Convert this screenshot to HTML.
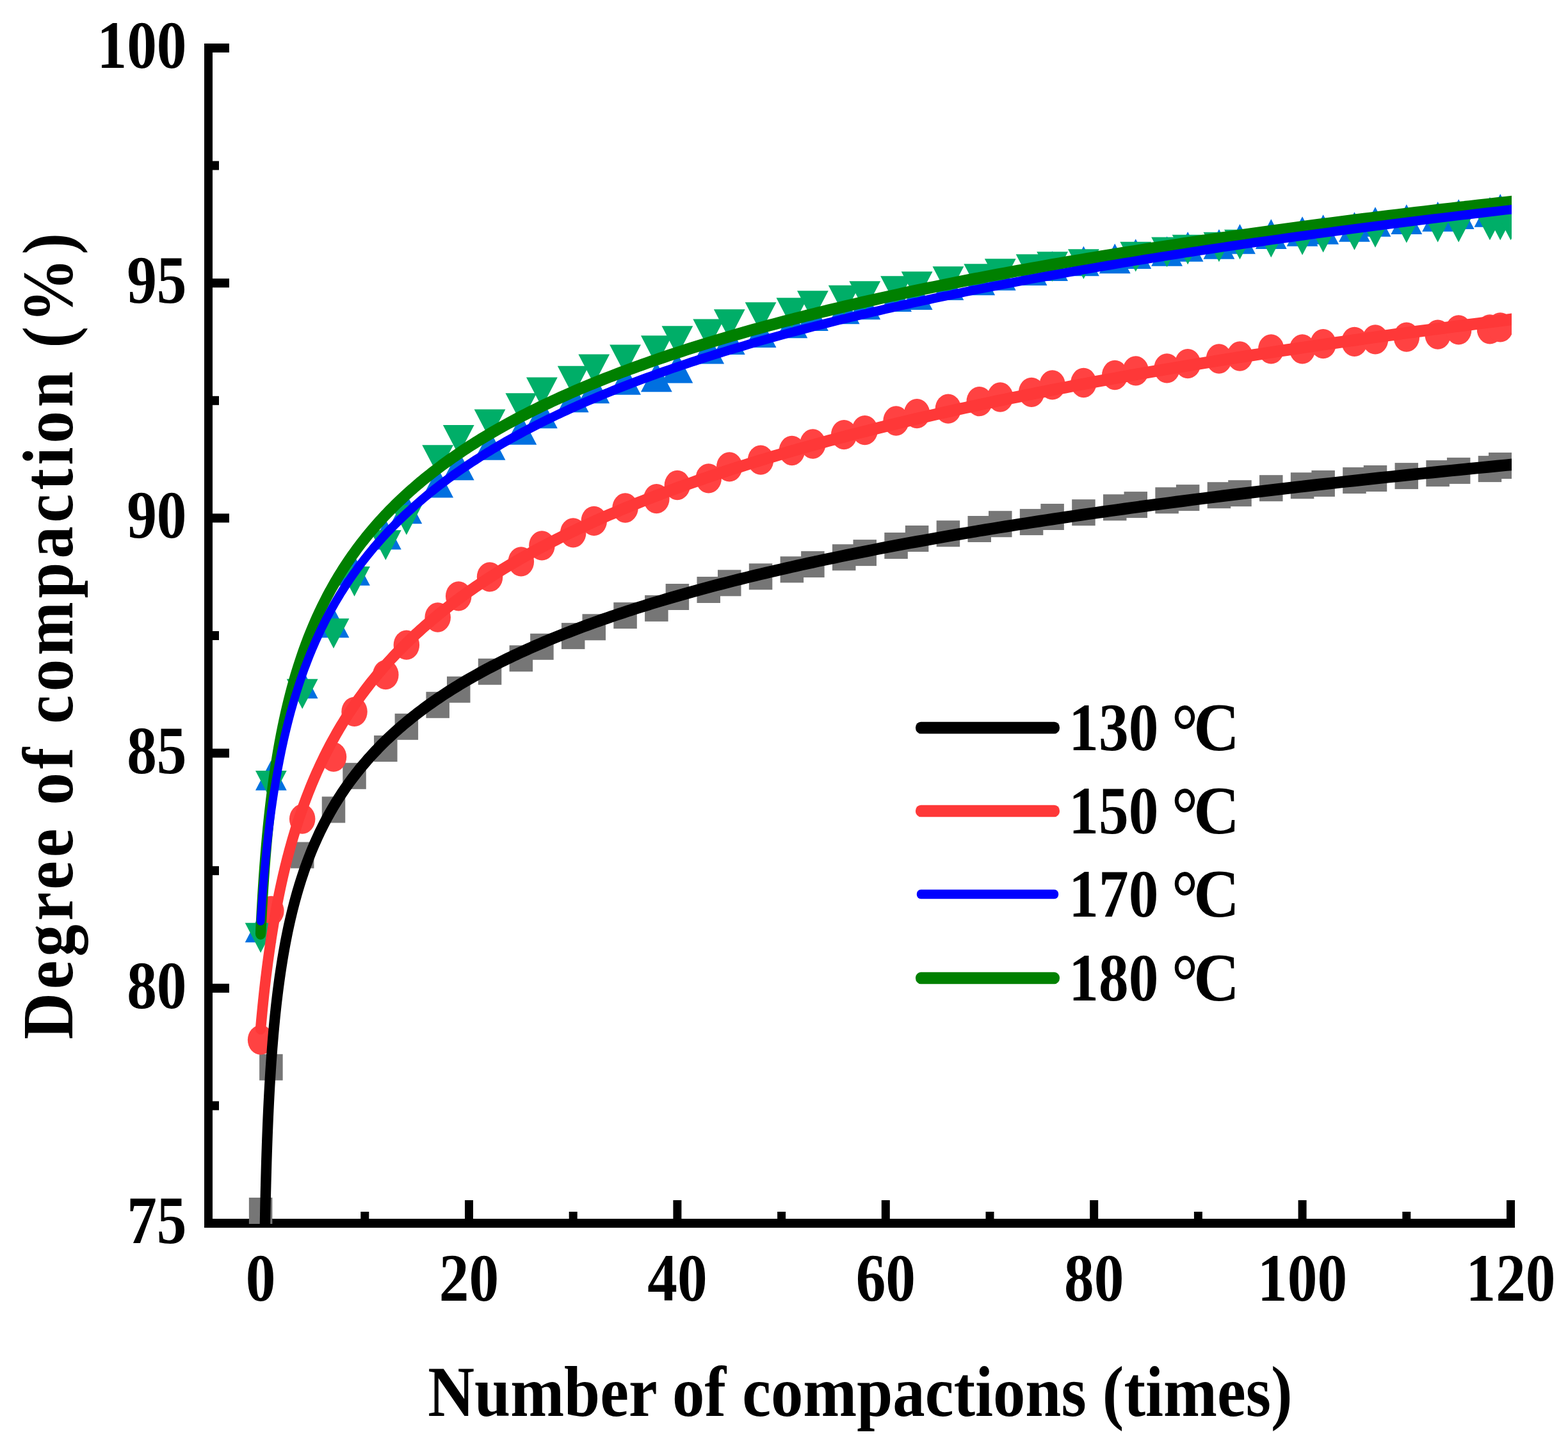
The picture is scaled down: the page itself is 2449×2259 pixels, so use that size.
<!DOCTYPE html>
<html><head><meta charset="utf-8"><title>Degree of compaction</title>
<style>html,body{margin:0;padding:0;background:#fff;} svg{display:block;}
text{font-family:"Liberation Serif","Times New Roman",serif;font-weight:bold;fill:#000;}</style></head>
<body>
<svg width="2449" height="2259" viewBox="0 0 2449 2259">
<rect x="0" y="0" width="2449" height="2259" fill="#fff"/>
<defs><clipPath id="fr"><rect x="325.5" y="60" width="2035.5" height="1852"/></clipPath></defs>
<g fill="#000"><rect x="319" y="68" width="13" height="1850"/><rect x="319" y="1904" width="2047" height="14"/><rect x="332" y="1904" width="26" height="14"/><rect x="332" y="1536.8" width="26" height="14"/><rect x="332" y="1169.6" width="26" height="14"/><rect x="332" y="802.4" width="26" height="14"/><rect x="332" y="435.2" width="26" height="14"/><rect x="332" y="68" width="26" height="14"/><rect x="332" y="1720.4" width="10" height="14"/><rect x="332" y="1353.2" width="10" height="14"/><rect x="332" y="986" width="10" height="14"/><rect x="332" y="618.8" width="10" height="14"/><rect x="332" y="251.6" width="10" height="14"/><rect x="400.6" y="1875" width="13" height="29"/><rect x="726" y="1875" width="13" height="29"/><rect x="1051.4" y="1875" width="13" height="29"/><rect x="1376.8" y="1875" width="13" height="29"/><rect x="1702.2" y="1875" width="13" height="29"/><rect x="2027.6" y="1875" width="13" height="29"/><rect x="2353" y="1875" width="13" height="29"/><rect x="563.3" y="1893" width="13" height="11"/><rect x="888.7" y="1893" width="13" height="11"/><rect x="1214.1" y="1893" width="13" height="11"/><rect x="1539.5" y="1893" width="13" height="11"/><rect x="1864.9" y="1893" width="13" height="11"/><rect x="2190.3" y="1893" width="13" height="11"/></g>
<g clip-path="url(#fr)">
<g fill="#767676"><rect x="388.85" y="1871" width="36.5" height="41.0"/><rect x="405.12" y="1646.8" width="36.5" height="41.0"/><rect x="453.93" y="1315.5" width="36.5" height="41.0"/><rect x="502.74" y="1244.5" width="36.5" height="41.0"/><rect x="535.28" y="1191.8" width="36.5" height="41.0"/><rect x="584.09" y="1149" width="36.5" height="41.0"/><rect x="616.63" y="1114.8" width="36.5" height="41.0"/><rect x="665.44" y="1080.8" width="36.5" height="41.0"/><rect x="697.98" y="1056.8" width="36.5" height="41.0"/><rect x="746.79" y="1028.8" width="36.5" height="41.0"/><rect x="795.6" y="1008.2" width="36.5" height="41.0"/><rect x="828.14" y="989.8" width="36.5" height="41.0"/><rect x="876.95" y="973.1" width="36.5" height="41.0"/><rect x="909.49" y="959.3" width="36.5" height="41.0"/><rect x="958.3" y="941.1" width="36.5" height="41.0"/><rect x="1007.11" y="929.9" width="36.5" height="41.0"/><rect x="1039.65" y="912" width="36.5" height="41.0"/><rect x="1088.46" y="901" width="36.5" height="41.0"/><rect x="1121" y="890.3" width="36.5" height="41.0"/><rect x="1169.81" y="880.3" width="36.5" height="41.0"/><rect x="1218.62" y="869.3" width="36.5" height="41.0"/><rect x="1251.16" y="861.1" width="36.5" height="41.0"/><rect x="1299.97" y="850.3" width="36.5" height="41.0"/><rect x="1332.51" y="843.1" width="36.5" height="41.0"/><rect x="1381.32" y="832" width="36.5" height="41.0"/><rect x="1413.86" y="821" width="36.5" height="41.0"/><rect x="1462.67" y="813.2" width="36.5" height="41.0"/><rect x="1511.48" y="806" width="36.5" height="41.0"/><rect x="1544.02" y="798.2" width="36.5" height="41.0"/><rect x="1592.83" y="795.1" width="36.5" height="41.0"/><rect x="1625.37" y="787" width="36.5" height="41.0"/><rect x="1674.18" y="780.2" width="36.5" height="41.0"/><rect x="1722.99" y="772.3" width="36.5" height="41.0"/><rect x="1755.53" y="768.1" width="36.5" height="41.0"/><rect x="1804.34" y="761.3" width="36.5" height="41.0"/><rect x="1836.88" y="757.1" width="36.5" height="41.0"/><rect x="1885.69" y="753.2" width="36.5" height="41.0"/><rect x="1918.23" y="750.2" width="36.5" height="41.0"/><rect x="1967.04" y="742.2" width="36.5" height="41.0"/><rect x="2015.85" y="738.2" width="36.5" height="41.0"/><rect x="2048.39" y="734.9" width="36.5" height="41.0"/><rect x="2097.2" y="730.1" width="36.5" height="41.0"/><rect x="2129.74" y="727" width="36.5" height="41.0"/><rect x="2178.55" y="723.1" width="36.5" height="41.0"/><rect x="2227.36" y="719.1" width="36.5" height="41.0"/><rect x="2259.9" y="714.9" width="36.5" height="41.0"/><rect x="2308.71" y="712.1" width="36.5" height="41.0"/><rect x="2324.98" y="707" width="36.5" height="41.0"/></g>
<g fill="#FF4242"><ellipse cx="407.1" cy="1624.6" rx="20.25" ry="23.15"/><ellipse cx="423.37" cy="1423" rx="20.25" ry="23.15"/><ellipse cx="472.18" cy="1279.5" rx="20.25" ry="23.15"/><ellipse cx="520.99" cy="1182.6" rx="20.25" ry="23.15"/><ellipse cx="553.53" cy="1111.8" rx="20.25" ry="23.15"/><ellipse cx="602.34" cy="1054.2" rx="20.25" ry="23.15"/><ellipse cx="634.88" cy="1007.7" rx="20.25" ry="23.15"/><ellipse cx="683.69" cy="964.5" rx="20.25" ry="23.15"/><ellipse cx="716.23" cy="931.3" rx="20.25" ry="23.15"/><ellipse cx="765.04" cy="901.3" rx="20.25" ry="23.15"/><ellipse cx="813.85" cy="877.3" rx="20.25" ry="23.15"/><ellipse cx="846.39" cy="852.4" rx="20.25" ry="23.15"/><ellipse cx="895.2" cy="832.4" rx="20.25" ry="23.15"/><ellipse cx="927.74" cy="813.9" rx="20.25" ry="23.15"/><ellipse cx="976.55" cy="793.5" rx="20.25" ry="23.15"/><ellipse cx="1025.36" cy="779.1" rx="20.25" ry="23.15"/><ellipse cx="1057.9" cy="758" rx="20.25" ry="23.15"/><ellipse cx="1106.71" cy="747.3" rx="20.25" ry="23.15"/><ellipse cx="1139.25" cy="729.3" rx="20.25" ry="23.15"/><ellipse cx="1188.06" cy="718.7" rx="20.25" ry="23.15"/><ellipse cx="1236.87" cy="704" rx="20.25" ry="23.15"/><ellipse cx="1269.41" cy="693.5" rx="20.25" ry="23.15"/><ellipse cx="1318.22" cy="679.2" rx="20.25" ry="23.15"/><ellipse cx="1350.76" cy="672.2" rx="20.25" ry="23.15"/><ellipse cx="1399.57" cy="657.5" rx="20.25" ry="23.15"/><ellipse cx="1432.11" cy="646.2" rx="20.25" ry="23.15"/><ellipse cx="1480.92" cy="638.6" rx="20.25" ry="23.15"/><ellipse cx="1529.73" cy="627.2" rx="20.25" ry="23.15"/><ellipse cx="1562.27" cy="620.5" rx="20.25" ry="23.15"/><ellipse cx="1611.08" cy="612.8" rx="20.25" ry="23.15"/><ellipse cx="1643.62" cy="601.4" rx="20.25" ry="23.15"/><ellipse cx="1692.43" cy="598" rx="20.25" ry="23.15"/><ellipse cx="1741.24" cy="586" rx="20.25" ry="23.15"/><ellipse cx="1773.78" cy="579.4" rx="20.25" ry="23.15"/><ellipse cx="1822.59" cy="575.4" rx="20.25" ry="23.15"/><ellipse cx="1855.13" cy="568.2" rx="20.25" ry="23.15"/><ellipse cx="1903.94" cy="560.5" rx="20.25" ry="23.15"/><ellipse cx="1936.48" cy="556.5" rx="20.25" ry="23.15"/><ellipse cx="1985.29" cy="545.3" rx="20.25" ry="23.15"/><ellipse cx="2034.1" cy="545.3" rx="20.25" ry="23.15"/><ellipse cx="2066.64" cy="537.2" rx="20.25" ry="23.15"/><ellipse cx="2115.45" cy="533.9" rx="20.25" ry="23.15"/><ellipse cx="2147.99" cy="530.4" rx="20.25" ry="23.15"/><ellipse cx="2196.8" cy="526.7" rx="20.25" ry="23.15"/><ellipse cx="2245.61" cy="522.7" rx="20.25" ry="23.15"/><ellipse cx="2278.15" cy="515.3" rx="20.25" ry="23.15"/><ellipse cx="2326.96" cy="514.4" rx="20.25" ry="23.15"/><ellipse cx="2343.23" cy="511.3" rx="20.25" ry="23.15"/></g>
<g fill="#0070E0"><path d="M407.1,1425.55L431.5,1472.25L382.7,1472.25Z"/><path d="M423.37,1187.95L447.77,1234.65L398.97,1234.65Z"/><path d="M472.18,1044.65L496.58,1091.35L447.78,1091.35Z"/><path d="M520.99,949.65L545.39,996.35L496.59,996.35Z"/><path d="M553.53,868.15L577.93,914.85L529.13,914.85Z"/><path d="M602.34,811.85L626.74,858.55L577.94,858.55Z"/><path d="M634.88,771.65L659.28,818.35L610.48,818.35Z"/><path d="M683.69,730.75L708.09,777.45L659.29,777.45Z"/><path d="M716.23,703.65L740.63,750.35L691.83,750.35Z"/><path d="M765.04,672.15L789.44,718.85L740.64,718.85Z"/><path d="M813.85,647.95L838.25,694.65L789.45,694.65Z"/><path d="M846.39,622.65L870.79,669.35L821.99,669.35Z"/><path d="M895.2,597.65L919.6,644.35L870.8,644.35Z"/><path d="M927.74,583.55L952.14,630.25L903.34,630.25Z"/><path d="M976.55,570.05L1000.95,616.75L952.15,616.75Z"/><path d="M1025.36,565.65L1049.76,612.35L1000.96,612.35Z"/><path d="M1057.9,551.75L1082.3,598.45L1033.5,598.45Z"/><path d="M1106.71,521.85L1131.11,568.55L1082.31,568.55Z"/><path d="M1139.25,507.35L1163.65,554.05L1114.85,554.05Z"/><path d="M1188.06,496.35L1212.46,543.05L1163.66,543.05Z"/><path d="M1236.87,481.65L1261.27,528.35L1212.47,528.35Z"/><path d="M1269.41,470.25L1293.81,516.95L1245.01,516.95Z"/><path d="M1318.22,459.65L1342.62,506.35L1293.82,506.35Z"/><path d="M1350.76,452.45L1375.16,499.15L1326.36,499.15Z"/><path d="M1399.57,440.35L1423.97,487.05L1375.17,487.05Z"/><path d="M1432.11,437.25L1456.51,483.95L1407.71,483.95Z"/><path d="M1480.92,422.35L1505.32,469.05L1456.52,469.05Z"/><path d="M1529.73,414.65L1554.13,461.35L1505.33,461.35Z"/><path d="M1562.27,407.05L1586.67,453.75L1537.87,453.75Z"/><path d="M1611.08,399.35L1635.48,446.05L1586.68,446.05Z"/><path d="M1643.62,392.35L1668.02,439.05L1619.22,439.05Z"/><path d="M1692.43,384.45L1716.83,431.15L1668.03,431.15Z"/><path d="M1741.24,380.45L1765.64,427.15L1716.84,427.15Z"/><path d="M1773.78,373.35L1798.18,420.05L1749.38,420.05Z"/><path d="M1822.59,369.15L1846.99,415.85L1798.19,415.85Z"/><path d="M1855.13,362.05L1879.53,408.75L1830.73,408.75Z"/><path d="M1903.94,358.05L1928.34,404.75L1879.54,404.75Z"/><path d="M1936.48,350.05L1960.88,396.75L1912.08,396.75Z"/><path d="M1985.29,342.25L2009.69,388.95L1960.89,388.95Z"/><path d="M2034.1,338.15L2058.5,384.85L2009.7,384.85Z"/><path d="M2066.64,335.15L2091.04,381.85L2042.24,381.85Z"/><path d="M2115.45,331.15L2139.85,377.85L2091.05,377.85Z"/><path d="M2147.99,323.15L2172.39,369.85L2123.59,369.85Z"/><path d="M2196.8,319.25L2221.2,365.95L2172.4,365.95Z"/><path d="M2245.61,315.05L2270.01,361.75L2221.21,361.75Z"/><path d="M2278.15,311.25L2302.55,357.95L2253.75,357.95Z"/><path d="M2326.96,308.05L2351.36,354.75L2302.56,354.75Z"/><path d="M2343.23,303.05L2367.63,349.75L2318.83,349.75Z"/></g>
<g fill="#00AE68"><path d="M382.7,1441.85L431.5,1441.85L407.1,1488.55Z"/><path d="M398.97,1203.95L447.77,1203.95L423.37,1250.65Z"/><path d="M447.78,1060.85L496.58,1060.85L472.18,1107.55Z"/><path d="M496.59,966.35L545.39,966.35L520.99,1013.05Z"/><path d="M529.13,885.05L577.93,885.05L553.53,931.75Z"/><path d="M577.94,828.25L626.74,828.25L602.34,874.95Z"/><path d="M610.48,789.05L659.28,789.05L634.88,835.75Z"/><path d="M659.29,695.15L708.09,695.15L683.69,741.85Z"/><path d="M691.83,663.95L740.63,663.95L716.23,710.65Z"/><path d="M740.64,639.45L789.44,639.45L765.04,686.15Z"/><path d="M789.45,614.15L838.25,614.15L813.85,660.85Z"/><path d="M821.99,589.45L870.79,589.45L846.39,636.15Z"/><path d="M870.8,571.85L919.6,571.85L895.2,618.55Z"/><path d="M903.34,553.55L952.14,553.55L927.74,600.25Z"/><path d="M952.15,538.55L1000.95,538.55L976.55,585.25Z"/><path d="M1000.96,524.35L1049.76,524.35L1025.36,571.05Z"/><path d="M1033.5,509.35L1082.3,509.35L1057.9,556.05Z"/><path d="M1082.31,498.45L1131.11,498.45L1106.71,545.15Z"/><path d="M1114.85,483.35L1163.65,483.35L1139.25,530.05Z"/><path d="M1163.66,472.25L1212.46,472.25L1188.06,518.95Z"/><path d="M1212.47,465.25L1261.27,465.25L1236.87,511.95Z"/><path d="M1245.01,454.25L1293.81,454.25L1269.41,500.95Z"/><path d="M1293.82,445.85L1342.62,445.85L1318.22,492.55Z"/><path d="M1326.36,439.35L1375.16,439.35L1350.76,486.05Z"/><path d="M1375.17,431.15L1423.97,431.15L1399.57,477.85Z"/><path d="M1407.71,424.35L1456.51,424.35L1432.11,471.05Z"/><path d="M1456.52,416.25L1505.32,416.25L1480.92,462.95Z"/><path d="M1505.33,412.25L1554.13,412.25L1529.73,458.95Z"/><path d="M1537.87,404.25L1586.67,404.25L1562.27,450.95Z"/><path d="M1586.68,397.15L1635.48,397.15L1611.08,443.85Z"/><path d="M1619.22,393.35L1668.02,393.35L1643.62,440.05Z"/><path d="M1668.03,389.35L1716.83,389.35L1692.43,436.05Z"/><path d="M1749.38,377.85L1798.18,377.85L1773.78,424.55Z"/><path d="M1798.19,370.55L1846.99,370.55L1822.59,417.25Z"/><path d="M1830.73,366.65L1879.53,366.65L1855.13,413.35Z"/><path d="M1879.54,362.65L1928.34,362.65L1903.94,409.35Z"/><path d="M1912.08,358.65L1960.88,358.65L1936.48,405.35Z"/><path d="M1960.89,355.65L2009.69,355.65L1985.29,402.35Z"/><path d="M2009.7,351.85L2058.5,351.85L2034.1,398.55Z"/><path d="M2042.24,347.85L2091.04,347.85L2066.64,394.55Z"/><path d="M2091.05,343.95L2139.85,343.95L2115.45,390.65Z"/><path d="M2123.59,339.95L2172.39,339.95L2147.99,386.65Z"/><path d="M2172.4,332.85L2221.2,332.85L2196.8,379.55Z"/><path d="M2221.21,331.85L2270.01,331.85L2245.61,378.55Z"/><path d="M2253.75,331.85L2302.55,331.85L2278.15,378.55Z"/><path d="M2302.56,328.65L2351.36,328.65L2326.96,375.35Z"/><path d="M2318.83,328.65L2367.63,328.65L2343.23,375.35Z"/><path d="M2335.1,328.65L2383.9,328.65L2359.5,375.35Z"/></g>
<g transform="scale(0.89,1)" fill="none" stroke-linecap="round" stroke-linejoin="round">
<path d="M461.41,2100.00 L461.41,2100.00 L461.41,2100.00 L461.41,2100.00 L461.41,2100.00 L461.41,2100.00 L461.42,2100.00 L461.42,2100.00 L461.43,2100.00 L461.44,2100.00 L461.44,2100.00 L461.46,2100.00 L461.47,2100.00 L461.49,2100.00 L461.50,2100.00 L461.53,2100.00 L461.55,2100.00 L461.58,2100.00 L461.61,2100.00 L461.65,2100.00 L461.68,2100.00 L461.73,2100.00 L461.78,2100.00 L461.83,2100.00 L461.89,2100.00 L461.95,2100.00 L462.01,2100.00 L462.09,2100.00 L462.16,2100.00 L462.25,2100.00 L462.34,2100.00 L462.43,2100.00 L462.54,2100.00 L462.64,2100.00 L462.76,2098.75 L462.88,2082.71 L463.01,2067.10 L463.15,2051.92 L463.30,2037.14 L463.45,2022.73 L463.61,2008.68 L463.78,1994.97 L463.96,1981.59 L464.14,1968.52 L464.34,1955.75 L464.54,1943.26 L464.75,1931.04 L464.98,1919.08 L465.21,1907.37 L465.45,1895.90 L465.70,1884.66 L465.97,1873.64 L466.24,1862.84 L466.53,1852.24 L466.82,1841.83 L467.13,1831.62 L467.44,1821.59 L467.77,1811.73 L468.11,1802.05 L468.47,1792.53 L468.83,1783.17 L469.21,1773.96 L469.60,1764.90 L470.00,1755.99 L470.42,1747.22 L470.85,1738.58 L471.29,1730.07 L471.74,1721.69 L472.21,1713.44 L472.70,1705.30 L473.19,1697.29 L473.71,1689.38 L474.23,1681.59 L474.78,1673.90 L475.33,1666.32 L475.90,1658.83 L476.49,1651.45 L477.10,1644.17 L477.71,1636.97 L478.35,1629.87 L479.00,1622.86 L479.67,1615.94 L480.35,1609.10 L481.06,1602.34 L481.77,1595.66 L482.51,1589.06 L483.26,1582.54 L484.03,1576.10 L484.82,1569.73 L485.63,1563.43 L486.46,1557.20 L487.30,1551.04 L488.16,1544.94 L489.05,1538.92 L489.95,1532.95 L490.87,1527.05 L491.81,1521.21 L492.77,1515.44 L493.75,1509.72 L494.75,1504.06 L495.77,1498.45 L496.81,1492.90 L497.87,1487.41 L498.95,1481.97 L500.06,1476.58 L501.18,1471.25 L502.33,1465.96 L503.50,1460.72 L504.69,1455.54 L505.90,1450.40 L507.14,1445.30 L508.40,1440.26 L509.68,1435.26 L510.98,1430.30 L512.31,1425.39 L513.66,1420.51 L515.04,1415.69 L516.44,1410.90 L517.86,1406.15 L519.31,1401.45 L520.78,1396.78 L522.28,1392.15 L523.80,1387.56 L525.34,1383.01 L526.92,1378.49 L528.51,1374.01 L530.14,1369.57 L531.79,1365.16 L533.46,1360.79 L535.16,1356.45 L536.89,1352.14 L538.65,1347.87 L540.43,1343.63 L542.24,1339.42 L544.08,1335.24 L545.94,1331.09 L547.83,1326.98 L549.75,1322.89 L551.70,1318.84 L553.68,1314.81 L555.69,1310.81 L557.72,1306.84 L559.78,1302.90 L561.88,1298.99 L564.00,1295.10 L566.15,1291.24 L568.33,1287.41 L570.55,1283.60 L572.79,1279.82 L575.06,1276.06 L577.37,1272.33 L579.70,1268.63 L582.07,1264.94 L584.46,1261.29 L586.89,1257.65 L589.35,1254.04 L591.84,1250.46 L594.37,1246.89 L596.93,1243.35 L599.51,1239.83 L602.14,1236.34 L604.79,1232.86 L607.48,1229.41 L610.20,1225.98 L612.96,1222.56 L615.75,1219.17 L618.57,1215.80 L621.43,1212.45 L624.32,1209.12 L627.25,1205.81 L630.21,1202.52 L633.20,1199.25 L636.23,1196.00 L639.30,1192.77 L642.40,1189.55 L645.54,1186.36 L648.72,1183.18 L651.93,1180.02 L655.18,1176.87 L658.46,1173.75 L661.78,1170.64 L665.14,1167.55 L668.53,1164.48 L671.97,1161.42 L675.44,1158.38 L678.95,1155.36 L682.49,1152.35 L686.08,1149.36 L689.70,1146.39 L693.36,1143.43 L697.07,1140.49 L700.81,1137.56 L704.59,1134.65 L708.41,1131.75 L712.26,1128.87 L716.16,1126.00 L720.10,1123.15 L724.08,1120.31 L728.10,1117.48 L732.16,1114.67 L736.27,1111.88 L740.41,1109.10 L744.60,1106.33 L748.82,1103.57 L753.09,1100.83 L757.40,1098.10 L761.75,1095.39 L766.15,1092.69 L770.59,1090.00 L775.07,1087.33 L779.59,1084.66 L784.16,1082.01 L788.77,1079.38 L793.42,1076.75 L798.12,1074.14 L802.86,1071.54 L807.65,1068.95 L812.48,1066.37 L817.36,1063.81 L822.28,1061.26 L827.24,1058.72 L832.26,1056.19 L837.31,1053.67 L842.42,1051.16 L847.56,1048.67 L852.76,1046.18 L858.00,1043.71 L863.29,1041.25 L868.62,1038.79 L874.00,1036.35 L879.43,1033.92 L884.91,1031.50 L890.43,1029.09 L896.00,1026.69 L901.62,1024.31 L907.29,1021.93 L913.01,1019.56 L918.77,1017.20 L924.59,1014.85 L930.45,1012.51 L936.36,1010.18 L942.32,1007.86 L948.34,1005.56 L954.40,1003.26 L960.51,1000.96 L966.67,998.68 L972.88,996.41 L979.14,994.15 L985.46,991.89 L991.82,989.65 L998.24,987.41 L1004.71,985.19 L1011.23,982.97 L1017.80,980.76 L1024.42,978.56 L1031.10,976.37 L1037.83,974.19 L1044.61,972.01 L1051.44,969.85 L1058.33,967.69 L1065.27,965.54 L1072.26,963.40 L1079.31,961.26 L1086.42,959.14 L1093.57,957.02 L1100.78,954.91 L1108.05,952.81 L1115.37,950.72 L1122.74,948.63 L1130.17,946.56 L1137.66,944.49 L1145.20,942.43 L1152.80,940.37 L1160.45,938.32 L1168.16,936.29 L1175.93,934.25 L1183.75,932.23 L1191.63,930.21 L1199.57,928.20 L1207.57,926.20 L1215.62,924.20 L1223.73,922.21 L1231.89,920.23 L1240.12,918.26 L1248.40,916.29 L1256.75,914.33 L1265.15,912.38 L1273.61,910.43 L1282.13,908.49 L1290.71,906.56 L1299.35,904.63 L1308.04,902.71 L1316.80,900.80 L1325.62,898.89 L1334.50,896.99 L1343.44,895.09 L1352.44,893.21 L1361.50,891.33 L1370.62,889.45 L1379.81,887.58 L1389.05,885.72 L1398.36,883.86 L1407.73,882.01 L1417.16,880.17 L1426.65,878.33 L1436.21,876.50 L1445.83,874.67 L1455.51,872.85 L1465.26,871.04 L1475.07,869.23 L1484.94,867.43 L1494.88,865.63 L1504.88,863.84 L1514.95,862.06 L1525.08,860.28 L1535.27,858.51 L1545.53,856.74 L1555.86,854.98 L1566.25,853.22 L1576.70,851.47 L1587.22,849.72 L1597.81,847.98 L1608.46,846.25 L1619.18,844.52 L1629.97,842.79 L1640.82,841.07 L1651.75,839.36 L1662.73,837.65 L1673.79,835.95 L1684.91,834.25 L1696.10,832.56 L1707.36,830.87 L1718.69,829.19 L1730.08,827.51 L1741.55,825.84 L1753.08,824.17 L1764.68,822.51 L1776.35,820.85 L1788.09,819.20 L1799.90,817.55 L1811.78,815.91 L1823.73,814.27 L1835.75,812.64 L1847.84,811.01 L1860.00,809.38 L1872.24,807.76 L1884.54,806.15 L1896.92,804.54 L1909.36,802.93 L1921.88,801.33 L1934.47,799.74 L1947.13,798.15 L1959.87,796.56 L1972.67,794.98 L1985.55,793.40 L1998.51,791.83 L2011.53,790.26 L2024.63,788.69 L2037.81,787.13 L2051.05,785.58 L2064.37,784.03 L2077.77,782.48 L2091.24,780.93 L2104.78,779.40 L2118.40,777.86 L2132.10,776.33 L2145.87,774.81 L2159.71,773.28 L2173.63,771.77 L2187.63,770.25 L2201.70,768.74 L2215.85,767.24 L2230.07,765.74 L2244.38,764.24 L2258.75,762.74 L2273.21,761.26 L2287.74,759.77 L2302.35,758.29 L2317.04,756.81 L2331.81,755.34 L2346.65,753.87 L2361.58,752.40 L2376.58,750.94 L2391.66,749.48 L2406.82,748.03 L2422.05,746.58 L2437.37,745.13 L2452.77,743.69 L2468.24,742.25 L2483.80,740.81 L2499.44,739.38 L2515.16,737.95 L2530.95,736.53 L2546.83,735.10 L2562.79,733.69 L2578.83,732.27 L2594.96,730.86 L2611.16,729.46 L2627.45,728.05 L2643.81,726.65 L2660.26,725.26" stroke="#000" stroke-width="18.5"/>
<path d="M457.42,1606.93 L457.42,1606.93 L457.42,1606.92 L457.42,1606.92 L457.42,1606.90 L457.42,1606.88 L457.42,1606.85 L457.43,1606.80 L457.43,1606.74 L457.44,1606.67 L457.45,1606.57 L457.46,1606.46 L457.48,1606.32 L457.49,1606.15 L457.51,1605.96 L457.53,1605.73 L457.56,1605.48 L457.58,1605.19 L457.62,1604.87 L457.65,1604.51 L457.69,1604.11 L457.73,1603.67 L457.78,1603.19 L457.83,1602.66 L457.89,1602.08 L457.95,1601.46 L458.02,1600.79 L458.09,1600.06 L458.17,1599.28 L458.26,1598.45 L458.35,1597.56 L458.44,1596.61 L458.54,1595.60 L458.65,1594.53 L458.77,1593.40 L458.89,1592.21 L459.02,1590.95 L459.16,1589.63 L459.30,1588.24 L459.46,1586.79 L459.62,1585.27 L459.79,1583.68 L459.97,1582.03 L460.15,1580.30 L460.35,1578.51 L460.55,1576.64 L460.77,1574.71 L460.99,1572.71 L461.22,1570.63 L461.47,1568.49 L461.72,1566.28 L461.98,1564.00 L462.26,1561.65 L462.54,1559.23 L462.84,1556.74 L463.14,1554.19 L463.46,1551.57 L463.79,1548.88 L464.13,1546.13 L464.48,1543.31 L464.85,1540.43 L465.23,1537.49 L465.62,1534.49 L466.02,1531.43 L466.44,1528.31 L466.87,1525.13 L467.31,1521.89 L467.77,1518.60 L468.24,1515.25 L468.72,1511.85 L469.22,1508.41 L469.73,1504.91 L470.26,1501.36 L470.81,1497.76 L471.36,1494.12 L471.94,1490.44 L472.53,1486.71 L473.13,1482.95 L473.75,1479.14 L474.39,1475.29 L475.04,1471.41 L475.71,1467.49 L476.39,1463.54 L477.10,1459.56 L477.82,1455.54 L478.55,1451.50 L479.31,1447.43 L480.08,1443.33 L480.87,1439.20 L481.68,1435.06 L482.51,1430.89 L483.35,1426.69 L484.22,1422.48 L485.10,1418.25 L486.00,1414.00 L486.93,1409.74 L487.87,1405.46 L488.83,1401.16 L489.81,1396.86 L490.81,1392.54 L491.84,1388.21 L492.88,1383.87 L493.94,1379.52 L495.03,1375.17 L496.13,1370.80 L497.26,1366.43 L498.41,1362.06 L499.58,1357.68 L500.77,1353.30 L501.99,1348.92 L503.23,1344.53 L504.49,1340.15 L505.77,1335.76 L507.08,1331.37 L508.41,1326.99 L509.76,1322.61 L511.14,1318.23 L512.54,1313.85 L513.97,1309.47 L515.42,1305.10 L516.89,1300.74 L518.39,1296.38 L519.92,1292.02 L521.47,1287.68 L523.04,1283.33 L524.64,1279.00 L526.27,1274.67 L527.92,1270.35 L529.60,1266.04 L531.30,1261.74 L533.04,1257.45 L534.79,1253.16 L536.58,1248.89 L538.39,1244.63 L540.23,1240.37 L542.10,1236.13 L544.00,1231.90 L545.92,1227.67 L547.87,1223.46 L549.85,1219.26 L551.86,1215.08 L553.90,1210.90 L555.97,1206.74 L558.07,1202.59 L560.19,1198.45 L562.35,1194.32 L564.53,1190.21 L566.75,1186.11 L569.00,1182.02 L571.27,1177.95 L573.58,1173.88 L575.92,1169.84 L578.29,1165.80 L580.69,1161.78 L583.12,1157.77 L585.59,1153.78 L588.09,1149.80 L590.62,1145.83 L593.18,1141.87 L595.77,1137.94 L598.40,1134.01 L601.06,1130.10 L603.75,1126.20 L606.48,1122.32 L609.24,1118.45 L612.03,1114.59 L614.86,1110.75 L617.72,1106.92 L620.62,1103.11 L623.55,1099.31 L626.52,1095.52 L629.52,1091.75 L632.56,1087.99 L635.63,1084.25 L638.74,1080.52 L641.88,1076.80 L645.06,1073.10 L648.28,1069.41 L651.53,1065.74 L654.82,1062.08 L658.15,1058.43 L661.51,1054.80 L664.92,1051.18 L668.36,1047.57 L671.83,1043.98 L675.35,1040.41 L678.90,1036.84 L682.49,1033.29 L686.12,1029.75 L689.79,1026.23 L693.50,1022.72 L697.25,1019.22 L701.03,1015.74 L704.86,1012.27 L708.73,1008.81 L712.63,1005.37 L716.58,1001.94 L720.57,998.52 L724.59,995.12 L728.66,991.72 L732.77,988.34 L736.92,984.98 L741.12,981.63 L745.35,978.29 L749.63,974.96 L753.94,971.64 L758.30,968.34 L762.71,965.05 L767.15,961.77 L771.64,958.51 L776.17,955.25 L780.75,952.01 L785.37,948.79 L790.03,945.57 L794.74,942.36 L799.49,939.17 L804.29,935.99 L809.13,932.82 L814.01,929.67 L818.94,926.52 L823.91,923.39 L828.94,920.27 L834.00,917.16 L839.11,914.06 L844.27,910.97 L849.48,907.89 L854.73,904.83 L860.02,901.78 L865.37,898.73 L870.76,895.70 L876.20,892.68 L881.68,889.67 L887.22,886.68 L892.80,883.69 L898.43,880.71 L904.11,877.75 L909.83,874.79 L915.61,871.85 L921.43,868.91 L927.31,865.99 L933.23,863.08 L939.20,860.18 L945.23,857.28 L951.30,854.40 L957.42,851.53 L963.59,848.67 L969.82,845.82 L976.09,842.98 L982.42,840.15 L988.79,837.32 L995.22,834.51 L1001.70,831.71 L1008.23,828.92 L1014.81,826.14 L1021.45,823.36 L1028.14,820.60 L1034.88,817.85 L1041.67,815.10 L1048.52,812.37 L1055.42,809.64 L1062.37,806.93 L1069.38,804.22 L1076.44,801.52 L1083.56,798.83 L1090.73,796.15 L1097.95,793.48 L1105.23,790.82 L1112.56,788.17 L1119.95,785.53 L1127.40,782.89 L1134.89,780.27 L1142.45,777.65 L1150.06,775.04 L1157.73,772.44 L1165.45,769.85 L1173.23,767.27 L1181.07,764.69 L1188.97,762.13 L1196.92,759.57 L1204.93,757.02 L1212.99,754.48 L1221.12,751.95 L1229.30,749.42 L1237.54,746.90 L1245.84,744.40 L1254.20,741.90 L1262.61,739.40 L1271.09,736.92 L1279.62,734.44 L1288.22,731.97 L1296.87,729.51 L1305.59,727.06 L1314.36,724.62 L1323.20,722.18 L1332.09,719.75 L1341.05,717.33 L1350.06,714.91 L1359.14,712.50 L1368.28,710.10 L1377.48,707.71 L1386.74,705.33 L1396.07,702.95 L1405.45,700.58 L1414.90,698.22 L1424.41,695.86 L1433.99,693.51 L1443.62,691.17 L1453.32,688.84 L1463.09,686.51 L1472.92,684.19 L1482.81,681.87 L1492.76,679.57 L1502.78,677.27 L1512.87,674.98 L1523.01,672.69 L1533.23,670.41 L1543.51,668.14 L1553.85,665.87 L1564.26,663.61 L1574.73,661.36 L1585.27,659.12 L1595.88,656.88 L1606.55,654.64 L1617.29,652.42 L1628.10,650.20 L1638.97,647.99 L1649.91,645.78 L1660.92,643.58 L1672.00,641.39 L1683.14,639.20 L1694.35,637.02 L1705.63,634.84 L1716.98,632.67 L1728.39,630.51 L1739.88,628.35 L1751.43,626.20 L1763.05,624.06 L1774.74,621.92 L1786.51,619.79 L1798.34,617.66 L1810.24,615.54 L1822.21,613.42 L1834.25,611.32 L1846.37,609.21 L1858.55,607.11 L1870.81,605.02 L1883.13,602.94 L1895.53,600.86 L1908.00,598.78 L1920.54,596.72 L1933.15,594.65 L1945.84,592.59 L1958.60,590.54 L1971.43,588.50 L1984.33,586.46 L1997.31,584.42 L2010.36,582.39 L2023.48,580.37 L2036.68,578.35 L2049.95,576.33 L2063.29,574.33 L2076.71,572.32 L2090.21,570.33 L2103.77,568.33 L2117.42,566.35 L2131.14,564.37 L2144.93,562.39 L2158.80,560.42 L2172.75,558.45 L2186.77,556.49 L2200.87,554.53 L2215.04,552.58 L2229.29,550.64 L2243.62,548.70 L2258.02,546.76 L2272.51,544.83 L2287.07,542.90 L2301.70,540.98 L2316.42,539.07 L2331.21,537.15 L2346.08,535.25 L2361.03,533.35 L2376.06,531.45 L2391.17,529.56 L2406.35,527.67 L2421.62,525.79 L2436.97,523.91 L2452.39,522.04 L2467.90,520.17 L2483.48,518.30 L2499.15,516.44 L2514.89,514.59 L2530.72,512.74 L2546.63,510.89 L2562.62,509.05 L2578.69,507.22 L2594.84,505.38 L2611.07,503.56 L2627.39,501.73 L2643.78,499.91 L2660.26,498.10" stroke="#FE3838" stroke-width="18.5"/>
<path d="M457.42,1458.82 L457.42,1458.82 L457.42,1458.82 L457.42,1458.80 L457.42,1458.78 L457.42,1458.74 L457.42,1458.68 L457.43,1458.59 L457.43,1458.48 L457.44,1458.34 L457.45,1458.16 L457.46,1457.94 L457.48,1457.68 L457.49,1457.37 L457.51,1457.01 L457.53,1456.59 L457.56,1456.12 L457.58,1455.58 L457.62,1454.98 L457.65,1454.31 L457.69,1453.57 L457.73,1452.76 L457.78,1451.87 L457.83,1450.89 L457.89,1449.83 L457.95,1448.69 L458.02,1447.46 L458.09,1446.13 L458.17,1444.72 L458.26,1443.21 L458.35,1441.60 L458.44,1439.90 L458.54,1438.09 L458.65,1436.19 L458.77,1434.19 L458.89,1432.08 L459.02,1429.87 L459.16,1427.56 L459.30,1425.15 L459.46,1422.64 L459.62,1420.03 L459.79,1417.31 L459.97,1414.50 L460.15,1411.59 L460.35,1408.58 L460.55,1405.47 L460.77,1402.27 L460.99,1398.98 L461.22,1395.60 L461.47,1392.13 L461.72,1388.57 L461.98,1384.93 L462.26,1381.21 L462.54,1377.40 L462.84,1373.53 L463.14,1369.57 L463.46,1365.55 L463.79,1361.45 L464.13,1357.29 L464.48,1353.07 L464.85,1348.78 L465.23,1344.44 L465.62,1340.04 L466.02,1335.59 L466.44,1331.09 L466.87,1326.55 L467.31,1321.96 L467.77,1317.33 L468.24,1312.65 L468.72,1307.95 L469.22,1303.21 L469.73,1298.43 L470.26,1293.63 L470.81,1288.80 L471.36,1283.95 L471.94,1279.07 L472.53,1274.18 L473.13,1269.27 L473.75,1264.34 L474.39,1259.39 L475.04,1254.44 L475.71,1249.47 L476.39,1244.50 L477.10,1239.51 L477.82,1234.53 L478.55,1229.54 L479.31,1224.54 L480.08,1219.55 L480.87,1214.55 L481.68,1209.56 L482.51,1204.57 L483.35,1199.59 L484.22,1194.60 L485.10,1189.63 L486.00,1184.66 L486.93,1179.70 L487.87,1174.75 L488.83,1169.81 L489.81,1164.88 L490.81,1159.97 L491.84,1155.06 L492.88,1150.17 L493.94,1145.29 L495.03,1140.42 L496.13,1135.57 L497.26,1130.73 L498.41,1125.91 L499.58,1121.11 L500.77,1116.32 L501.99,1111.55 L503.23,1106.80 L504.49,1102.06 L505.77,1097.35 L507.08,1092.65 L508.41,1087.97 L509.76,1083.30 L511.14,1078.66 L512.54,1074.04 L513.97,1069.43 L515.42,1064.85 L516.89,1060.28 L518.39,1055.74 L519.92,1051.21 L521.47,1046.71 L523.04,1042.22 L524.64,1037.76 L526.27,1033.31 L527.92,1028.89 L529.60,1024.48 L531.30,1020.10 L533.04,1015.74 L534.79,1011.40 L536.58,1007.07 L538.39,1002.77 L540.23,998.49 L542.10,994.23 L544.00,989.99 L545.92,985.77 L547.87,981.57 L549.85,977.39 L551.86,973.24 L553.90,969.10 L555.97,964.98 L558.07,960.88 L560.19,956.80 L562.35,952.74 L564.53,948.71 L566.75,944.69 L569.00,940.69 L571.27,936.71 L573.58,932.75 L575.92,928.81 L578.29,924.89 L580.69,920.98 L583.12,917.10 L585.59,913.24 L588.09,909.39 L590.62,905.56 L593.18,901.76 L595.77,897.97 L598.40,894.20 L601.06,890.44 L603.75,886.71 L606.48,882.99 L609.24,879.29 L612.03,875.61 L614.86,871.95 L617.72,868.30 L620.62,864.68 L623.55,861.07 L626.52,857.47 L629.52,853.90 L632.56,850.34 L635.63,846.80 L638.74,843.27 L641.88,839.76 L645.06,836.27 L648.28,832.79 L651.53,829.33 L654.82,825.89 L658.15,822.46 L661.51,819.05 L664.92,815.66 L668.36,812.28 L671.83,808.92 L675.35,805.57 L678.90,802.23 L682.49,798.92 L686.12,795.61 L689.79,792.33 L693.50,789.05 L697.25,785.80 L701.03,782.55 L704.86,779.33 L708.73,776.11 L712.63,772.91 L716.58,769.73 L720.57,766.56 L724.59,763.40 L728.66,760.26 L732.77,757.13 L736.92,754.01 L741.12,750.91 L745.35,747.82 L749.63,744.75 L753.94,741.69 L758.30,738.64 L762.71,735.61 L767.15,732.59 L771.64,729.58 L776.17,726.58 L780.75,723.60 L785.37,720.63 L790.03,717.67 L794.74,714.73 L799.49,711.79 L804.29,708.87 L809.13,705.96 L814.01,703.07 L818.94,700.18 L823.91,697.31 L828.94,694.45 L834.00,691.60 L839.11,688.77 L844.27,685.94 L849.48,683.13 L854.73,680.33 L860.02,677.54 L865.37,674.76 L870.76,671.99 L876.20,669.23 L881.68,666.48 L887.22,663.75 L892.80,661.03 L898.43,658.31 L904.11,655.61 L909.83,652.92 L915.61,650.23 L921.43,647.56 L927.31,644.90 L933.23,642.25 L939.20,639.61 L945.23,636.98 L951.30,634.36 L957.42,631.75 L963.59,629.15 L969.82,626.56 L976.09,623.98 L982.42,621.41 L988.79,618.85 L995.22,616.30 L1001.70,613.76 L1008.23,611.23 L1014.81,608.70 L1021.45,606.19 L1028.14,603.69 L1034.88,601.19 L1041.67,598.71 L1048.52,596.23 L1055.42,593.76 L1062.37,591.31 L1069.38,588.86 L1076.44,586.42 L1083.56,583.98 L1090.73,581.56 L1097.95,579.15 L1105.23,576.74 L1112.56,574.34 L1119.95,571.95 L1127.40,569.57 L1134.89,567.20 L1142.45,564.84 L1150.06,562.48 L1157.73,560.14 L1165.45,557.80 L1173.23,555.47 L1181.07,553.15 L1188.97,550.83 L1196.92,548.52 L1204.93,546.23 L1212.99,543.93 L1221.12,541.65 L1229.30,539.38 L1237.54,537.11 L1245.84,534.85 L1254.20,532.60 L1262.61,530.35 L1271.09,528.11 L1279.62,525.88 L1288.22,523.66 L1296.87,521.45 L1305.59,519.24 L1314.36,517.04 L1323.20,514.85 L1332.09,512.66 L1341.05,510.48 L1350.06,508.31 L1359.14,506.15 L1368.28,503.99 L1377.48,501.84 L1386.74,499.69 L1396.07,497.56 L1405.45,495.43 L1414.90,493.30 L1424.41,491.19 L1433.99,489.08 L1443.62,486.97 L1453.32,484.88 L1463.09,482.79 L1472.92,480.70 L1482.81,478.63 L1492.76,476.56 L1502.78,474.49 L1512.87,472.43 L1523.01,470.38 L1533.23,468.34 L1543.51,466.30 L1553.85,464.27 L1564.26,462.24 L1574.73,460.22 L1585.27,458.21 L1595.88,456.20 L1606.55,454.20 L1617.29,452.20 L1628.10,450.21 L1638.97,448.23 L1649.91,446.25 L1660.92,444.28 L1672.00,442.31 L1683.14,440.35 L1694.35,438.40 L1705.63,436.45 L1716.98,434.51 L1728.39,432.57 L1739.88,430.64 L1751.43,428.71 L1763.05,426.79 L1774.74,424.88 L1786.51,422.97 L1798.34,421.06 L1810.24,419.17 L1822.21,417.27 L1834.25,415.39 L1846.37,413.50 L1858.55,411.63 L1870.81,409.76 L1883.13,407.89 L1895.53,406.03 L1908.00,404.17 L1920.54,402.32 L1933.15,400.48 L1945.84,398.64 L1958.60,396.80 L1971.43,394.97 L1984.33,393.15 L1997.31,391.33 L2010.36,389.51 L2023.48,387.70 L2036.68,385.90 L2049.95,384.10 L2063.29,382.30 L2076.71,380.51 L2090.21,378.73 L2103.77,376.95 L2117.42,375.17 L2131.14,373.40 L2144.93,371.63 L2158.80,369.87 L2172.75,368.12 L2186.77,366.36 L2200.87,364.62 L2215.04,362.87 L2229.29,361.14 L2243.62,359.40 L2258.02,357.67 L2272.51,355.95 L2287.07,354.23 L2301.70,352.51 L2316.42,350.80 L2331.21,349.09 L2346.08,347.39 L2361.03,345.69 L2376.06,344.00 L2391.17,342.31 L2406.35,340.63 L2421.62,338.95 L2436.97,337.27 L2452.39,335.60 L2467.90,333.93 L2483.48,332.27 L2499.15,330.61 L2514.89,328.95 L2530.72,327.30 L2546.63,325.66 L2562.62,324.01 L2578.69,322.37 L2594.84,320.74 L2611.07,319.11 L2627.39,317.48 L2643.78,315.86 L2660.26,314.24" stroke="#008000" stroke-width="18.5"/>
<path d="M457.42,1438.59 L457.42,1438.59 L457.42,1438.59 L457.42,1438.58 L457.42,1438.56 L457.42,1438.53 L457.42,1438.49 L457.43,1438.43 L457.43,1438.35 L457.44,1438.25 L457.45,1438.12 L457.46,1437.96 L457.48,1437.77 L457.49,1437.55 L457.51,1437.29 L457.53,1436.99 L457.56,1436.65 L457.58,1436.27 L457.62,1435.84 L457.65,1435.36 L457.69,1434.82 L457.73,1434.23 L457.78,1433.59 L457.83,1432.88 L457.89,1432.12 L457.95,1431.29 L458.02,1430.39 L458.09,1429.43 L458.17,1428.40 L458.26,1427.29 L458.35,1426.11 L458.44,1424.86 L458.54,1423.54 L458.65,1422.13 L458.77,1420.65 L458.89,1419.09 L459.02,1417.44 L459.16,1415.72 L459.30,1413.92 L459.46,1412.03 L459.62,1410.06 L459.79,1408.01 L459.97,1405.87 L460.15,1403.65 L460.35,1401.35 L460.55,1398.97 L460.77,1396.51 L460.99,1393.96 L461.22,1391.34 L461.47,1388.63 L461.72,1385.85 L461.98,1382.98 L462.26,1380.05 L462.54,1377.03 L462.84,1373.94 L463.14,1370.78 L463.46,1367.55 L463.79,1364.25 L464.13,1360.88 L464.48,1357.44 L464.85,1353.94 L465.23,1350.38 L465.62,1346.76 L466.02,1343.07 L466.44,1339.33 L466.87,1335.54 L467.31,1331.69 L467.77,1327.79 L468.24,1323.84 L468.72,1319.85 L469.22,1315.80 L469.73,1311.72 L470.26,1307.59 L470.81,1303.43 L471.36,1299.23 L471.94,1294.99 L472.53,1290.72 L473.13,1286.42 L473.75,1282.08 L474.39,1277.72 L475.04,1273.33 L475.71,1268.92 L476.39,1264.49 L477.10,1260.03 L477.82,1255.55 L478.55,1251.06 L479.31,1246.55 L480.08,1242.02 L480.87,1237.49 L481.68,1232.93 L482.51,1228.37 L483.35,1223.80 L484.22,1219.22 L485.10,1214.64 L486.00,1210.04 L486.93,1205.45 L487.87,1200.85 L488.83,1196.24 L489.81,1191.64 L490.81,1187.03 L491.84,1182.43 L492.88,1177.83 L493.94,1173.23 L495.03,1168.63 L496.13,1164.03 L497.26,1159.45 L498.41,1154.86 L499.58,1150.29 L500.77,1145.71 L501.99,1141.15 L503.23,1136.60 L504.49,1132.05 L505.77,1127.51 L507.08,1122.99 L508.41,1118.47 L509.76,1113.96 L511.14,1109.47 L512.54,1104.98 L513.97,1100.51 L515.42,1096.05 L516.89,1091.60 L518.39,1087.17 L519.92,1082.75 L521.47,1078.34 L523.04,1073.95 L524.64,1069.57 L526.27,1065.20 L527.92,1060.85 L529.60,1056.52 L531.30,1052.20 L533.04,1047.89 L534.79,1043.60 L536.58,1039.33 L538.39,1035.07 L540.23,1030.83 L542.10,1026.60 L544.00,1022.39 L545.92,1018.19 L547.87,1014.01 L549.85,1009.85 L551.86,1005.71 L553.90,1001.58 L555.97,997.46 L558.07,993.37 L560.19,989.29 L562.35,985.22 L564.53,981.18 L566.75,977.15 L569.00,973.13 L571.27,969.14 L573.58,965.16 L575.92,961.19 L578.29,957.24 L580.69,953.31 L583.12,949.40 L585.59,945.50 L588.09,941.62 L590.62,937.76 L593.18,933.91 L595.77,930.08 L598.40,926.26 L601.06,922.47 L603.75,918.68 L606.48,914.92 L609.24,911.17 L612.03,907.43 L614.86,903.72 L617.72,900.02 L620.62,896.33 L623.55,892.66 L626.52,889.01 L629.52,885.37 L632.56,881.75 L635.63,878.14 L638.74,874.55 L641.88,870.97 L645.06,867.41 L648.28,863.87 L651.53,860.34 L654.82,856.82 L658.15,853.32 L661.51,849.84 L664.92,846.37 L668.36,842.91 L671.83,839.47 L675.35,836.05 L678.90,832.63 L682.49,829.24 L686.12,825.86 L689.79,822.49 L693.50,819.14 L697.25,815.80 L701.03,812.47 L704.86,809.16 L708.73,805.86 L712.63,802.58 L716.58,799.31 L720.57,796.05 L724.59,792.81 L728.66,789.58 L732.77,786.37 L736.92,783.17 L741.12,779.98 L745.35,776.80 L749.63,773.64 L753.94,770.49 L758.30,767.35 L762.71,764.23 L767.15,761.12 L771.64,758.02 L776.17,754.93 L780.75,751.86 L785.37,748.80 L790.03,745.75 L794.74,742.71 L799.49,739.69 L804.29,736.68 L809.13,733.68 L814.01,730.69 L818.94,727.71 L823.91,724.75 L828.94,721.80 L834.00,718.86 L839.11,715.93 L844.27,713.01 L849.48,710.10 L854.73,707.21 L860.02,704.32 L865.37,701.45 L870.76,698.59 L876.20,695.74 L881.68,692.90 L887.22,690.07 L892.80,687.25 L898.43,684.45 L904.11,681.65 L909.83,678.86 L915.61,676.09 L921.43,673.32 L927.31,670.57 L933.23,667.83 L939.20,665.09 L945.23,662.37 L951.30,659.65 L957.42,656.95 L963.59,654.26 L969.82,651.57 L976.09,648.90 L982.42,646.24 L988.79,643.58 L995.22,640.94 L1001.70,638.30 L1008.23,635.68 L1014.81,633.06 L1021.45,630.46 L1028.14,627.86 L1034.88,625.27 L1041.67,622.69 L1048.52,620.13 L1055.42,617.57 L1062.37,615.01 L1069.38,612.47 L1076.44,609.94 L1083.56,607.42 L1090.73,604.90 L1097.95,602.39 L1105.23,599.90 L1112.56,597.41 L1119.95,594.93 L1127.40,592.46 L1134.89,589.99 L1142.45,587.54 L1150.06,585.09 L1157.73,582.65 L1165.45,580.22 L1173.23,577.80 L1181.07,575.39 L1188.97,572.98 L1196.92,570.59 L1204.93,568.20 L1212.99,565.82 L1221.12,563.44 L1229.30,561.08 L1237.54,558.72 L1245.84,556.37 L1254.20,554.03 L1262.61,551.70 L1271.09,549.37 L1279.62,547.05 L1288.22,544.74 L1296.87,542.44 L1305.59,540.14 L1314.36,537.85 L1323.20,535.57 L1332.09,533.30 L1341.05,531.03 L1350.06,528.77 L1359.14,526.52 L1368.28,524.27 L1377.48,522.04 L1386.74,519.80 L1396.07,517.58 L1405.45,515.36 L1414.90,513.15 L1424.41,510.95 L1433.99,508.75 L1443.62,506.57 L1453.32,504.38 L1463.09,502.21 L1472.92,500.04 L1482.81,497.88 L1492.76,495.72 L1502.78,493.57 L1512.87,491.43 L1523.01,489.29 L1533.23,487.16 L1543.51,485.04 L1553.85,482.92 L1564.26,480.81 L1574.73,478.71 L1585.27,476.61 L1595.88,474.52 L1606.55,472.43 L1617.29,470.36 L1628.10,468.28 L1638.97,466.22 L1649.91,464.15 L1660.92,462.10 L1672.00,460.05 L1683.14,458.01 L1694.35,455.97 L1705.63,453.94 L1716.98,451.92 L1728.39,449.90 L1739.88,447.88 L1751.43,445.88 L1763.05,443.88 L1774.74,441.88 L1786.51,439.89 L1798.34,437.91 L1810.24,435.93 L1822.21,433.95 L1834.25,431.99 L1846.37,430.02 L1858.55,428.07 L1870.81,426.12 L1883.13,424.17 L1895.53,422.23 L1908.00,420.29 L1920.54,418.37 L1933.15,416.44 L1945.84,414.52 L1958.60,412.61 L1971.43,410.70 L1984.33,408.80 L1997.31,406.90 L2010.36,405.01 L2023.48,403.12 L2036.68,401.24 L2049.95,399.36 L2063.29,397.49 L2076.71,395.62 L2090.21,393.76 L2103.77,391.90 L2117.42,390.05 L2131.14,388.20 L2144.93,386.36 L2158.80,384.52 L2172.75,382.69 L2186.77,380.86 L2200.87,379.04 L2215.04,377.22 L2229.29,375.40 L2243.62,373.60 L2258.02,371.79 L2272.51,369.99 L2287.07,368.20 L2301.70,366.41 L2316.42,364.62 L2331.21,362.84 L2346.08,361.06 L2361.03,359.29 L2376.06,357.52 L2391.17,355.76 L2406.35,354.00 L2421.62,352.25 L2436.97,350.50 L2452.39,348.76 L2467.90,347.01 L2483.48,345.28 L2499.15,343.55 L2514.89,341.82 L2530.72,340.10 L2546.63,338.38 L2562.62,336.66 L2578.69,334.95 L2594.84,333.25 L2611.07,331.54 L2627.39,329.85 L2643.78,328.15 L2660.26,326.46" stroke="#0000FF" stroke-width="14.5"/>
</g></g>
<text transform="translate(291.5,1942) scale(0.889,1)" font-size="105" text-anchor="end">75</text>
<text transform="translate(291.5,1574.8) scale(0.889,1)" font-size="105" text-anchor="end">80</text>
<text transform="translate(291.5,1207.6) scale(0.889,1)" font-size="105" text-anchor="end">85</text>
<text transform="translate(291.5,840.4) scale(0.889,1)" font-size="105" text-anchor="end">90</text>
<text transform="translate(291.5,473.2) scale(0.889,1)" font-size="105" text-anchor="end">95</text>
<text transform="translate(291.5,106) scale(0.889,1)" font-size="105" text-anchor="end">100</text>
<text transform="translate(407.1,2031.7) scale(0.889,1)" font-size="105" text-anchor="middle">0</text>
<text transform="translate(732.5,2031.7) scale(0.889,1)" font-size="105" text-anchor="middle">20</text>
<text transform="translate(1057.9,2031.7) scale(0.889,1)" font-size="105" text-anchor="middle">40</text>
<text transform="translate(1383.3,2031.7) scale(0.889,1)" font-size="105" text-anchor="middle">60</text>
<text transform="translate(1708.7,2031.7) scale(0.889,1)" font-size="105" text-anchor="middle">80</text>
<text transform="translate(2034.1,2031.7) scale(0.889,1)" font-size="105" text-anchor="middle">100</text>
<text transform="translate(2359.5,2031.7) scale(0.889,1)" font-size="105" text-anchor="middle">120</text>
<text transform="translate(668.3,2212) scale(0.892,1)" font-size="113">Number of compactions (times)</text>
<text transform="translate(113,1623.7) rotate(-90) scale(0.89,1)" font-size="113" letter-spacing="6.65">Degree of compaction (%)</text>
<g transform="scale(0.89,1)" fill="none" stroke-linecap="round">
<path d="M1615.96,1136.9L1850.34,1136.9" stroke="#000" stroke-width="18.5"/>
<path d="M1615.96,1266.9L1850.34,1266.9" stroke="#FE3838" stroke-width="18.5"/>
<path d="M1615.96,1397L1850.34,1397" stroke="#0000FF" stroke-width="14.5"/>
<path d="M1615.96,1528L1850.34,1528" stroke="#008000" stroke-width="18.5"/>
</g>
<text transform="translate(1669.3,1172) scale(0.889,1)" font-size="105">130 <tspan x="180.43" dy="11.7" font-size="123" textLength="46.75" lengthAdjust="spacingAndGlyphs">°</tspan><tspan x="219.24" dy="-11.7" textLength="80.43" lengthAdjust="spacingAndGlyphs">C</tspan></text>
<text transform="translate(1669.3,1302) scale(0.889,1)" font-size="105">150 <tspan x="180.43" dy="11.7" font-size="123" textLength="46.75" lengthAdjust="spacingAndGlyphs">°</tspan><tspan x="219.24" dy="-11.7" textLength="80.43" lengthAdjust="spacingAndGlyphs">C</tspan></text>
<text transform="translate(1669.3,1432.1) scale(0.889,1)" font-size="105">170 <tspan x="180.43" dy="11.7" font-size="123" textLength="46.75" lengthAdjust="spacingAndGlyphs">°</tspan><tspan x="219.24" dy="-11.7" textLength="80.43" lengthAdjust="spacingAndGlyphs">C</tspan></text>
<text transform="translate(1669.3,1563.1) scale(0.889,1)" font-size="105">180 <tspan x="180.43" dy="11.7" font-size="123" textLength="46.75" lengthAdjust="spacingAndGlyphs">°</tspan><tspan x="219.24" dy="-11.7" textLength="80.43" lengthAdjust="spacingAndGlyphs">C</tspan></text>
</svg></body></html>
